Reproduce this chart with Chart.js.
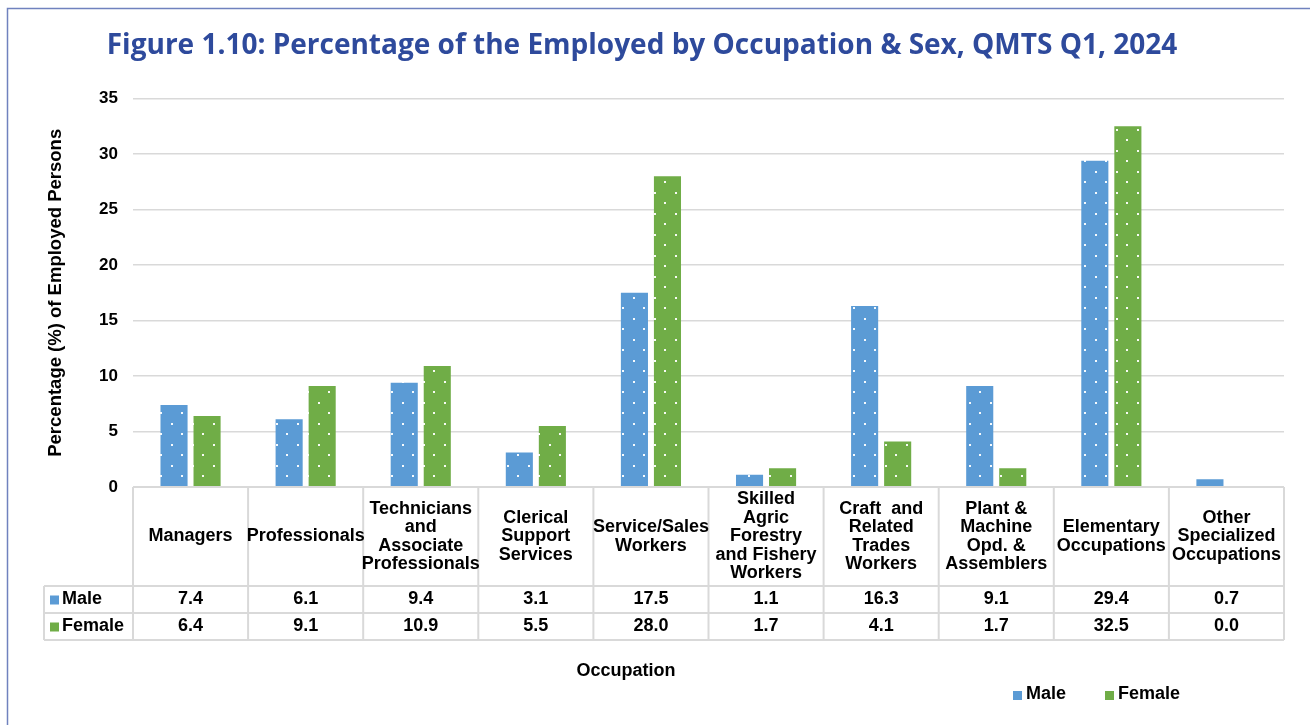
<!DOCTYPE html>
<html>
<head>
<meta charset="utf-8">
<script src="https://cdn.jsdelivr.net/npm/chart.js@4.4.1/dist/chart.umd.min.js"></script>
<style>
  html, body { margin: 0; padding: 0; background: #fff; }
  #wrap { width: 1310px; height: 725px; position: relative; }
</style>
</head>
<body>
<div id="wrap"><canvas id="chart" width="1310" height="725"></canvas></div>
<script>
// data
const categories = [
  ["Managers"],
  ["Professionals"],
  ["Technicians", "and", "Associate", "Professionals"],
  ["Clerical", "Support", "Services"],
  ["Service/Sales", "Workers"],
  ["Skilled", "Agric", "Forestry", "and Fishery", "Workers"],
  ["Craft  and", "Related", "Trades", "Workers"],
  ["Plant &", "Machine", "Opd. &", "Assemblers"],
  ["Elementary", "Occupations"],
  ["Other", "Specialized", "Occupations"]
];
const male = [7.4, 6.1, 9.4, 3.1, 17.5, 1.1, 16.3, 9.1, 29.4, 0.7];
const female = [6.4, 9.1, 10.9, 5.5, 28.0, 1.7, 4.1, 1.7, 32.5, 0.0];
const yTicks = [0, 5, 10, 15, 20, 25, 30, 35];

const BLUE = '#5B9BD5';
const GREEN = '#70AD47';
const GRID = '#D9D9D9';
const FONT = '"Liberation Sans", Arial, sans-serif';

// dotted fill like the Excel pattern
function dots(color) {
  const c = document.createElement('canvas');
  c.width = 21; c.height = 21;
  const g = c.getContext('2d');
  g.fillStyle = color;
  g.fillRect(0, 0, 21, 21);
  g.fillStyle = 'rgba(255,255,255,0.95)';
  g.fillRect(3, 3, 2, 2);
  g.fillRect(13, 13, 2, 2);
  return g.createPattern(c, 'repeat');
}

// data table, axis title and legend under the plot
const tablePlugin = {
  id: 'dataTable',
  afterDraw(chart) {
    const ctx = chart.ctx;
    const area = chart.chartArea;
    const x = chart.scales.x;
    const n = categories.length;
    const colW = (area.right - area.left) / n;
    const top = area.bottom;
    const r1 = top + 99, r2 = r1 + 27, r3 = r2 + 27;
    const leftCol = 44;

    ctx.save();
    // frame
    ctx.strokeStyle = '#7082BE';
    ctx.lineWidth = 1.5;
    ctx.beginPath();
    ctx.moveTo(7.5, 725); ctx.lineTo(7.5, 8.5); ctx.lineTo(1310, 8.5);
    ctx.stroke();

    // table lines
    ctx.strokeStyle = GRID;
    ctx.lineWidth = 2;
    ctx.beginPath();
    for (let i = 0; i <= n; i++) {
      const px = area.left + i * colW;
      ctx.moveTo(px, top); ctx.lineTo(px, r3);
    }
    ctx.moveTo(leftCol, r1); ctx.lineTo(leftCol, r3);
    [r1, r2, r3].forEach(function(yy) { ctx.moveTo(leftCol, yy); ctx.lineTo(area.right, yy); });
    ctx.moveTo(area.left, top); ctx.lineTo(area.right, top);
    ctx.stroke();

    ctx.fillStyle = '#000';
    ctx.textAlign = 'center';
    ctx.textBaseline = 'middle';
    ctx.font = 'bold 18px ' + FONT;
    const lh = 18.5;
    categories.forEach(function(lines, i) {
      const cx = x.getPixelForValue(i);
      const y0 = (top + r1) / 2 - (lines.length - 1) * lh / 2;
      lines.forEach(function(t, k) { ctx.fillText(t, cx, y0 + k * lh); });
    });

    const rows = [[male, r1, r2], [female, r2, r3]];
    chart.data.datasets.forEach(function(ds, d) {
      const vals = rows[d][0], ya = rows[d][1], yb = rows[d][2];
      const ym = (ya + yb) / 2;
      ctx.textAlign = 'center';
      vals.forEach(function(v, i) { ctx.fillText(v.toFixed(1), x.getPixelForValue(i), ym); });
      ctx.fillStyle = ds.borderColor;
      ctx.fillRect(50, ym - 4, 9, 9);
      ctx.fillStyle = '#000';
      ctx.textAlign = 'left';
      ctx.fillText(ds.label, 62, ym);
    });

    // x axis title
    ctx.textAlign = 'center';
    ctx.fillText('Occupation', 626, 671);

    // legend
    let lx = 1013;
    chart.data.datasets.forEach(function(ds) {
      ctx.fillStyle = ds.borderColor;
      ctx.fillRect(lx, 691, 9, 9);
      ctx.fillStyle = '#000';
      ctx.textAlign = 'left';
      ctx.fillText(ds.label, lx + 13, 694);
      lx += 92;
    });
    ctx.restore();
  }
};

const ctx = document.getElementById('chart').getContext('2d');
window.chart = new Chart(ctx, {
  type: 'bar',
  data: {
    labels: categories.map(function(c) { return c.join(' '); }),
    datasets: [
      { label: 'Male', data: male, backgroundColor: dots(BLUE), borderColor: BLUE, borderWidth: 0,
        categoryPercentage: 0.574, barPercentage: 0.82 },
      { label: 'Female', data: female, backgroundColor: dots(GREEN), borderColor: GREEN, borderWidth: 0,
        categoryPercentage: 0.574, barPercentage: 0.82 }
    ]
  },
  options: {
    responsive: false,
    animation: false,
    layout: { padding: { left: 0, right: 26, top: 0, bottom: 238 } },
    plugins: {
      legend: { display: false },
      tooltip: { enabled: false },
      title: {
        display: true,
        text: 'Figure 1.10: Percentage of the Employed by Occupation & Sex, QMTS Q1, 2024',
        color: '#2E4A9C',
        font: { family: '"Open Sans", sans-serif', size: 28, weight: '700' },
        padding: { top: 29, bottom: 36 }
      }
    },
    scales: {
      x: { display: false },
      y: {
        min: 0, max: 35,
        afterFit: function(s) { s.width = 133; },
        afterBuildTicks: function(s) { s.ticks = yTicks.map(function(v) { return { value: v }; }); },
        border: { display: false },
        grid: { color: GRID, lineWidth: 1.5, drawTicks: false },
        ticks: { padding: 15, color: '#000', font: { family: FONT, size: 17, weight: 'bold' } },
        title: {
          display: true,
          text: 'Percentage (%) of Employed Persons',
          color: '#000',
          font: { family: FONT, size: 18.5, weight: 'bold' },
          padding: { top: 45 }
        }
      }
    }
  },
  plugins: [tablePlugin]
});
</script>
</body>
</html>
